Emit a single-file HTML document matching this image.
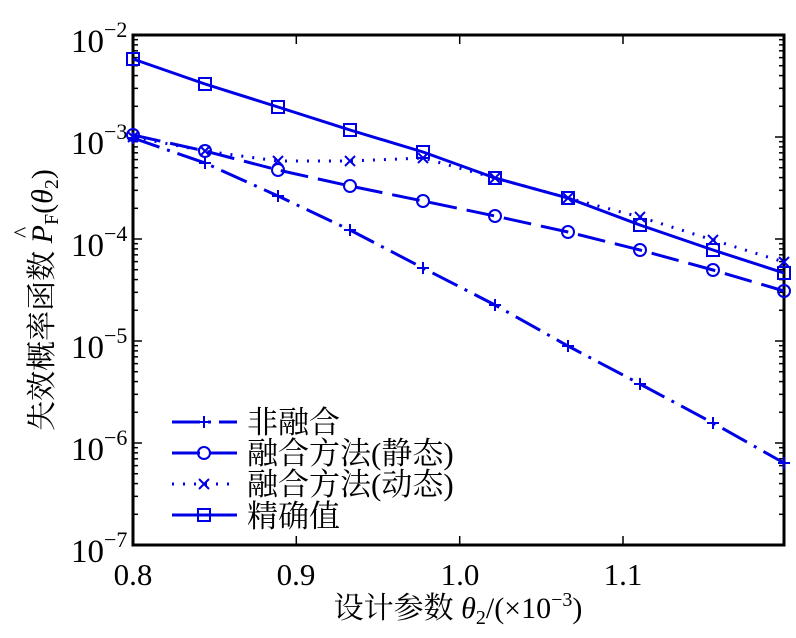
<!DOCTYPE html>
<html><head><meta charset="utf-8"><style>
html,body{margin:0;padding:0;background:#fff;width:796px;height:638px;overflow:hidden}
svg{display:block}
text{font-family:"Liberation Serif","Noto Serif CJK SC",serif;fill:#000}
</style></head><body>
<svg id="s" width="796" height="638" viewBox="0 0 796 638" xmlns="http://www.w3.org/2000/svg">
<g id="ticks" stroke="#000" stroke-width="1.5"></g>
<rect x="133" y="35" width="651" height="510" fill="none" stroke="#000" stroke-width="3"/>
<g font-size="33">
<text x="71" y="52">10<tspan dy="-15" font-size="22">−2</tspan></text>
<text x="71" y="154">10<tspan dy="-15" font-size="22">−3</tspan></text>
<text x="71" y="256">10<tspan dy="-15" font-size="22">−4</tspan></text>
<text x="71" y="358">10<tspan dy="-15" font-size="22">−5</tspan></text>
<text x="71" y="460">10<tspan dy="-15" font-size="22">−6</tspan></text>
<text x="71" y="562">10<tspan dy="-15" font-size="22">−7</tspan></text>
</g>
<g font-size="31" text-anchor="middle">
<text x="133" y="585">0.8</text>
<text x="296" y="585">0.9</text>
<text x="460" y="585">1.0</text>
<text x="623" y="585">1.1</text>
</g>
<text x="458" y="618" font-size="30" text-anchor="middle">设计参数 <tspan font-style="italic">θ</tspan><tspan font-size="20" dy="6">2</tspan><tspan dy="-6">/(×10</tspan><tspan font-size="20" dy="-12">−3</tspan><tspan dy="12">)</tspan></text>
<text transform="translate(52,300) rotate(-90)" font-size="30" text-anchor="middle">失效概率函数 <tspan font-style="italic">P</tspan><tspan font-size="20" dy="6">F</tspan><tspan dy="-6">(</tspan><tspan font-style="italic">θ</tspan><tspan font-size="20" dy="6">2</tspan><tspan dy="-6">)</tspan></text>
<text transform="translate(52,300) rotate(-90)" x="62" y="-22" font-size="24">^</text>
<g id="series" fill="none" stroke="#0000e6" stroke-width="3"></g>
<g font-size="31">
<text x="247" y="433">非融合</text>
<text x="247" y="464">融合方法(静态)</text>
<text x="247" y="495">融合方法(动态)</text>
<text x="247" y="527">精确值</text>
</g>
</svg>
<script>
var NS="http://www.w3.org/2000/svg";
function el(p,t,a){var e=document.createElementNS(NS,t);for(var k in a)e.setAttribute(k,a[k]);p.appendChild(e);return e;}
var tk=document.getElementById('ticks');
for(var d=0;d<5;d++){for(var k=1;k<=9;k++){var y=35+102*(d+1)-102*Math.log10(k);var L=k==1?9:5;
el(tk,'line',{x1:133,x2:133+L,y1:y,y2:y});el(tk,'line',{x1:784,x2:784-L,y1:y,y2:y});}}
[133,296.3,459.7,623].forEach(function(x){el(tk,'line',{x1:x,x2:x,y1:545,y2:536});el(tk,'line',{x1:x,x2:x,y1:35,y2:44});});
var xs=[133,205,278,350,423,495,568,640,713,784];
var S=[
 {y:[138,163,196,230,268,305,346,384,423,463],dash:"28,8,3,8",m:'+'},
 {y:[135,151,170,186,201,216,232,250,270,291],dash:"28,10",m:'o'},
 {y:[137,151,161,161,158,178,198,217,240,262],dash:"2,9",m:'x'},
 {y:[59,84,107,130,152,178,198,225,250,273],dash:"",m:'s'}];
var g=document.getElementById('series');
function mk(m,x,y){
 if(m=='+'){el(g,'path',{d:'M'+(x-6)+' '+y+'h12M'+x+' '+(y-6)+'v12','stroke-dasharray':'','stroke-width':2});}
 if(m=='o')el(g,'circle',{cx:x,cy:y,r:6,'stroke-dasharray':'','stroke-width':2});
 if(m=='x')el(g,'path',{d:'M'+(x-5)+' '+(y-5)+'l10 10M'+(x+5)+' '+(y-5)+'l-10 10','stroke-dasharray':'','stroke-width':2});
 if(m=='s')el(g,'rect',{x:x-6,y:y-6,width:12,height:12,'stroke-dasharray':'','stroke-width':2});
}
S.forEach(function(s,i){
 var d=xs.map(function(x,j){return (j?'L':'M')+x+' '+s.y[j];}).join('');
 el(g,'path',{d:d,'stroke-dasharray':s.dash});
 xs.forEach(function(x,j){mk(s.m,x,s.y[j]);});
 var ly=422+31*i;
 el(g,'path',{d:'M172 '+ly+'H237','stroke-dasharray':s.dash});
 mk(s.m,204,ly);
});
</script>
</body></html>
